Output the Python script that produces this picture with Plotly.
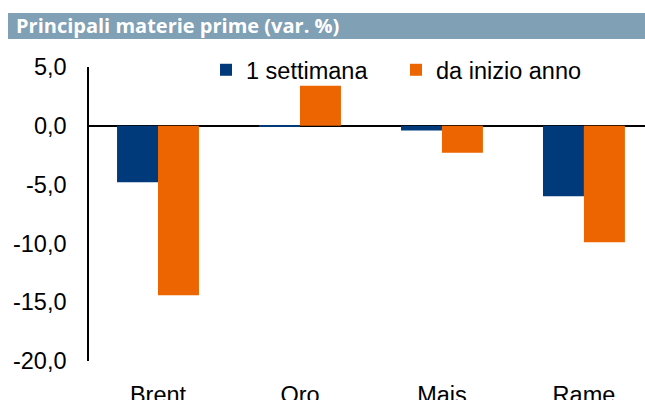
import plotly.graph_objects as go

categories = ["Brent", "Oro", "Mais", "Rame"]
settimana = [-4.8, -0.1, -0.4, -6.0]
inizio_anno = [-14.4, 3.4, -2.3, -9.9]
series_names = ["1 settimana", "da inizio anno"]
tick_vals = [5, 0, -5, -10, -15, -20]
tick_text = ["5,0", "0,0", "-5,0", "-10,0", "-15,0", "-20,0"]
title_text = "Principali materie prime (var. %)"

W, H = 645, 400
L, R, T, B = 89, 0, 67, 39
pw, ph = W - L - R, H - T - B

def px_x(x):
    return (x - L) / pw

def px_y(y):
    return (H - B - y) / ph

fig = go.Figure()
fig.add_trace(go.Bar(x=categories, y=settimana, name=series_names[0],
                     marker=dict(color="#003a7b", line=dict(width=0))))
fig.add_trace(go.Bar(x=categories, y=inizio_anno, name=series_names[1],
                     marker=dict(color="#ec6500", line=dict(width=0))))

fig.update_layout(
    width=W, height=H,
    margin=dict(l=L, r=R, t=T, b=B, pad=0, autoexpand=False),
    paper_bgcolor="white", plot_bgcolor="white",
    barmode="group", bargap=0.423, bargroupgap=0,
    font=dict(family="Liberation Sans, Arial, sans-serif", size=23.5, color="black"),
    showlegend=True,
    legend=dict(orientation="h", x=px_x(206), xanchor="left",
                y=px_y(70), yanchor="middle",
                font=dict(size=23.5), bgcolor="rgba(0,0,0,0)",
                entrywidth=145, entrywidthmode="pixels",
                itemclick=False, tracegroupgap=0),
    xaxis=dict(range=[-0.486, 3.43], showgrid=False, showline=False,
               ticks="", ticklabelstandoff=17, zeroline=False,
               tickfont=dict(size=23.5), automargin=False),
    yaxis=dict(range=[-20, 5], tickvals=tick_vals, ticktext=tick_text,
               showgrid=False, showline=True, linecolor="black", linewidth=1.5,
               zeroline=True, zerolinecolor="black", zerolinewidth=1.5,
               ticks="", ticklabelstandoff=16, tickfont=dict(size=23.5),
               automargin=False),
    shapes=[dict(type="rect", xref="paper", yref="paper",
                 x0=px_x(8), x1=px_x(645), y0=px_y(39), y1=px_y(13),
                 fillcolor="#7fa0b5", line=dict(width=0), layer="above")],
    annotations=[dict(text=title_text, xref="paper", yref="paper",
                      x=px_x(14), y=px_y(26), xanchor="left", yanchor="middle",
                      showarrow=False,
                      font=dict(family="Open Sans, sans-serif", size=20, color="white",
                                weight="bold"))],
)

fig.write_html("out.html", config={"displayModeBar": False},
               post_script="document.body.style.margin='0';")
